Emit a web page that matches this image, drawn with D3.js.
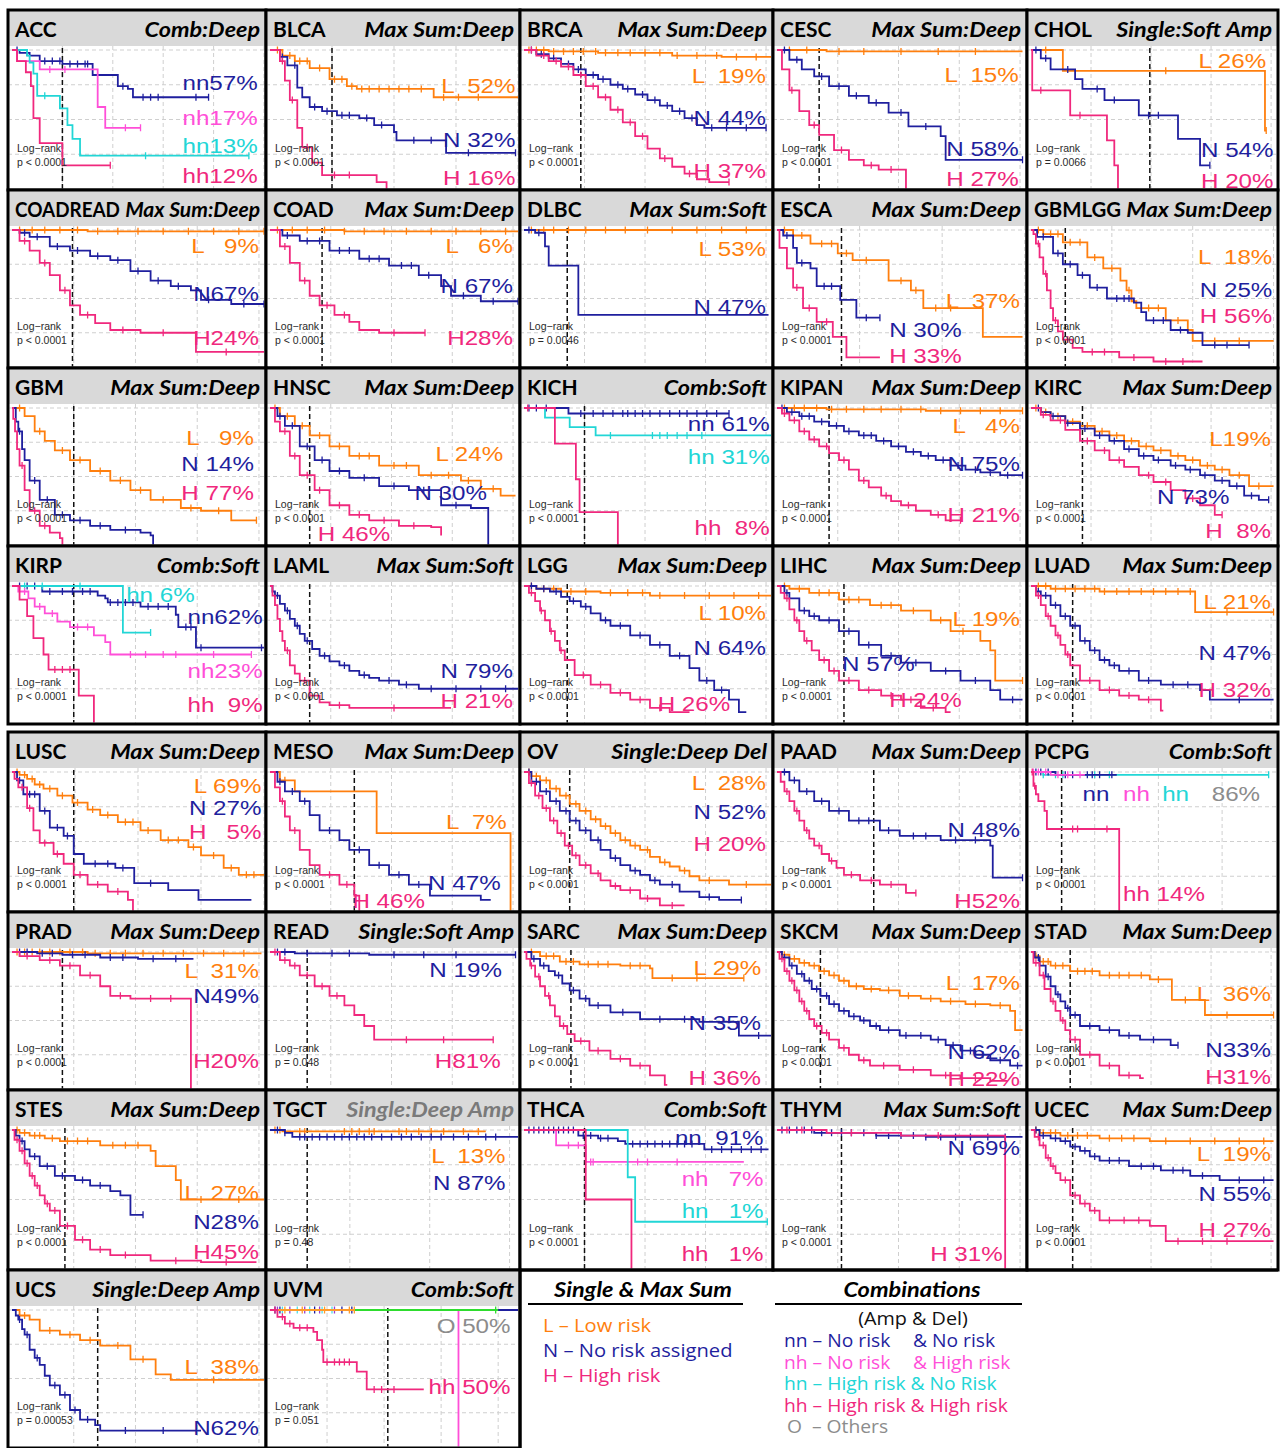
<!DOCTYPE html>
<html><head><meta charset="utf-8">
<script src="https://cdn.jsdelivr.net/npm/d3@7"></script>
<style>body{margin:0;background:#fff;} text{white-space:pre;}</style>
</head><body><svg id="c" width="1282" height="1448"></svg>
<script>
// ---------- colours per group key ----------
const groupColors = {L:"#ff7f0e", N:"#1f1f9e", H:"#f0287d", nn:"#1f1f9e", nh:"#ff4fd8", hn:"#22d6d6", hh:"#f0287d", O:"#8c8c8c", g:"#2edc2e", p:"#9a3ccf", o:"#ff9a2a", c:"#4fe0e0"};

// ---------- panel meta ----------
const panelNames = ["ACC","BLCA","BRCA","CESC","CHOL","COADREAD","COAD","DLBC","ESCA","GBMLGG","GBM","HNSC","KICH","KIPAN","KIRC","KIRP","LAML","LGG","LIHC","LUAD","LUSC","MESO","OV","PAAD","PCPG","PRAD","READ","SARC","SKCM","STAD","STES","TGCT","THCA","THYM","UCEC","UCS","UVM"];
const panelMethods = ["Comb:Deep","Max Sum:Deep","Max Sum:Deep","Max Sum:Deep","Single:Soft Amp","Max Sum:Deep","Max Sum:Deep","Max Sum:Soft","Max Sum:Deep","Max Sum:Deep","Max Sum:Deep","Max Sum:Deep","Comb:Soft","Max Sum:Deep","Max Sum:Deep","Comb:Soft","Max Sum:Soft","Max Sum:Deep","Max Sum:Deep","Max Sum:Deep","Max Sum:Deep","Max Sum:Deep","Single:Deep Del","Max Sum:Deep","Comb:Soft","Max Sum:Deep","Single:Soft Amp","Max Sum:Deep","Max Sum:Deep","Max Sum:Deep","Max Sum:Deep","Single:Deep Amp","Comb:Soft","Max Sum:Soft","Max Sum:Deep","Single:Deep Amp","Comb:Soft"];
const grayMethods = ["TGCT"];
const dashTimes = [2.0,2.5,2.3,1.7,4.85,2.4,2.1,1.75,2.6,1.4,2.45,1.6,2.45,2.1,2.1,2.45,1.6,1.75,2.7,1.7,2.45,3.4,1.85,3.9,1.25,2.0,1.5,1.9,1.75,1.6,2.1,1.5,2.45,2.6,1.7,3.4,4.75];
const gridSteps = [2.0,2.5,2.45,2.45,2.45,2.45,2.45,2.45,3.33,3.3,2.45,2.45,2.45,2.45,2.45,2.45,2.45,2.45,2.45,2.45,2.5,2.45,2.45,2.45,2.6,2.45,2.45,2.45,2.45,2.45,2.45,3.22,2.45,2.45,2.45,2.45,2.3];
const pValues = ["p < 0.0001","p < 0.0001","p < 0.0001","p < 0.0001","p = 0.0066","p < 0.0001","p < 0.0001","p = 0.0046","p < 0.0001","p < 0.0001","p < 0.0001","p < 0.0001","p < 0.0001","p < 0.0001","p < 0.0001","p < 0.0001","p < 0.0001","p < 0.0001","p < 0.0001","p < 0.0001","p < 0.0001","p < 0.0001","p < 0.0001","p < 0.0001","p < 0.0001","p < 0.0001","p = 0.048","p < 0.0001","p < 0.0001","p < 0.0001","p < 0.0001","p = 0.48","p < 0.0001","p < 0.0001","p < 0.0001","p = 0.00053","p = 0.051"];

// ---------- curves: [group, [[time, survival],...], end time, [censor times]] ----------
const curvesACC = [
 ["nn",[[0,1],[0.3,0.98],[0.7,0.96],[1.1,0.92],[2.0,0.9],[3.2,0.82],[4.2,0.74],[4.6,0.72],[4.8,0.66]],7.8,[0.2,0.6,1.3,1.6,1.9,2.3,2.6,2.9,3.0,4.4,5.2,5.5,5.8,7.3,7.8]],
 ["nh",[[0,1],[0.2,0.92],[1.1,0.86],[3.4,0.59],[3.7,0.44]],5.1,[1.5,2.1,4.5,5.1]],
 ["hn",[[0,1],[0.6,0.96],[0.7,0.91],[0.85,0.83],[1.0,0.67],[1.9,0.58],[2.2,0.46],[2.4,0.36],[2.7,0.24]],9.4,[1.3,5.3,9.4]],
 ["hh",[[0,1],[0.2,0.92],[0.55,0.84],[0.75,0.74],[0.85,0.51],[1.1,0.33],[2.0,0.17]],3.9,[3.9]]];
const curvesBLCA = [
 ["L",[[0,1],[0.5,0.96],[1,0.92],[1.6,0.87],[2.4,0.79],[3.1,0.74],[3.5,0.72],[6.6,0.66]],10,[0.3,0.8,1.2,1.5,2.0,2.6,2.9,3.3,3.7,4.0,4.4,4.8,5.2,5.6,6.1,7.0,7.6,8.4]],
 ["N",[[0,1],[0.4,0.95],[0.7,0.89],[1.1,0.73],[1.3,0.66],[1.6,0.59],[2.1,0.56],[2.7,0.53],[3.6,0.51],[4.2,0.46],[5.0,0.41],[5.1,0.35],[7.1,0.26]],9.9,[0.5,1.0,1.8,2.3,2.9,3.2,3.9,4.5,5.8,6.5,8.0,9.9]],
 ["H",[[0,1],[0.4,0.92],[0.6,0.78],[0.8,0.64],[1.1,0.44],[1.3,0.3],[1.7,0.19],[2.1,0.1],[4.3,0.05],[4.7,0]],4.7,[0.5,0.9,1.5,2.6,3.2]]];
const curvesBRCA = [
 ["L",[[0,1],[1,0.99],[3,0.98],[6,0.96],[8,0.95]],10,[0.2,0.5,0.8,1.2,1.6,2.0,2.4,2.9,3.3,3.8,4.3,4.9,5.5,6.2,7.0,7.8,8.6,9.4]],
 ["N",[[0,1],[0.5,0.97],[1,0.94],[1.5,0.9],[2,0.86],[2.5,0.82],[3,0.79],[3.5,0.75],[4,0.72],[4.5,0.68],[5,0.64],[5.5,0.6],[6,0.56],[6.5,0.51],[7,0.46],[7.3,0.44]],9.8,[0.3,0.7,1.2,1.8,2.2,2.8,3.2,3.8,4.2,4.8,5.3,5.8,6.3,6.8,7.6,8.2,9.0,9.8]],
 ["H",[[0,1],[0.5,0.96],[1,0.92],[1.5,0.88],[2,0.82],[2.5,0.74],[3,0.66],[3.5,0.57],[4,0.48],[4.5,0.38],[5,0.29],[5.5,0.22],[6,0.16],[6.5,0.11],[7,0.07],[7.5,0.05]],8.3,[0.3,0.8,1.3,1.8,2.3,2.8,3.3,3.8,4.3,4.8,5.7,6.7,8.3]]];
const curvesCESC = [
 ["L",[[0,1],[2,0.99]],9.9,[0.5,1.2,2.5,3.5,5,6.5,8]],
 ["N",[[0,1],[0.5,0.93],[1,0.86],[1.5,0.81],[2.1,0.74],[2.9,0.67],[3.7,0.62],[4.5,0.55],[5.3,0.45],[6.6,0.38],[6.8,0.21]],9.9,[0.3,0.8,1.8,2.5,3.2,4.0,5.0,6.0,9.9]],
 ["H",[[0,1],[0.2,0.86],[0.5,0.71],[0.9,0.56],[1.3,0.46],[1.7,0.39],[2.3,0.28],[2.9,0.21],[3.5,0.17],[4.1,0.14],[5.2,0]],5.2,[0.6,1.5,2.6,3.8,4.6]]];
const curvesCHOL = [
 ["L",[[0,1],[1.3,0.85],[9.55,0.42]],9.6,[0.6,5.5,9.6]],
 ["N",[[0,1],[0.4,0.94],[0.8,0.86],[1.8,0.79],[2.1,0.72],[3.0,0.64],[4.4,0.53],[6.0,0.36],[6.9,0.17]],7.3,[0.2,0.6,1.5,2.7,3.4,4.8,5.2,7.3]],
 ["H",[[0,1],[0.05,0.71],[1.6,0.53],[3.1,0.35],[3.4,0.17],[3.55,0]],3.55,[0.4,2.0]]];
const curvesCOADREAD = [
 ["L",[[0,1],[3,0.99]],10,[0.3,0.8,1.3,1.9,2.6,3.4,4.2,5,6,7,8,9,10]],
 ["N",[[0,1],[0.3,0.98],[0.7,0.95],[1.5,0.88],[2.3,0.85],[3.1,0.81],[3.9,0.78],[4.7,0.7],[5.5,0.63],[6.3,0.59],[7.1,0.56],[7.5,0.49],[8.7,0.46]],10,[0.5,1.0,1.8,2.6,3.4,4.2,5.0,5.8,6.6,7.8,9.2,10]],
 ["H",[[0,1],[0.3,0.92],[0.7,0.85],[1.1,0.76],[1.5,0.67],[1.9,0.56],[2.3,0.45],[2.7,0.38],[3.3,0.32],[3.9,0.27],[5.1,0.25],[7.3,0.11]],10,[0.5,1.3,2.1,3.0,4.4,6.0,8.5]]];
const curvesCOAD = [
 ["L",[[0,1],[3,0.99]],10,[0.3,0.9,1.5,2.2,3.0,3.8,4.6,5.5,6.5,7.5,8.5,9.5]],
 ["N",[[0,1],[0.5,0.96],[1.2,0.92],[2.4,0.85],[3.6,0.79],[4.8,0.74],[6.0,0.67],[6.9,0.59],[7.3,0.52],[8.5,0.48]],10,[0.7,1.5,2.0,2.8,3.2,4.0,4.4,5.3,5.7,6.4,7.0,7.8,9.0,10]],
 ["H",[[0,1],[0.4,0.88],[0.8,0.76],[1.2,0.63],[1.6,0.52],[2.0,0.45],[2.6,0.38],[3.2,0.33],[3.6,0.27],[4.4,0.25]],6.25,[0.6,1.4,2.3,3.0,5.0,6.25]]];
const curvesDLBC = [
 ["L",[[0,1]],10,[0.3,0.8,1.2,1.8,2.5,3.3,4.1,5,6,7,8,9]],
 ["N",[[0,1],[0.45,0.98],[0.85,0.88],[1.0,0.74],[2.2,0.38]],9.9,[0.2,0.6]]];
const curvesESCA = [
 ["L",[[0,1],[0.65,0.96],[1.35,0.9],[2.45,0.83],[3.05,0.78],[4.5,0.63],[5.4,0.56],[5.9,0.43],[8.3,0.22]],9.9,[0.3,1.0,1.8,2.2,2.8,3.6,5.0,5.6,6.4,7.0]],
 ["N",[[0,1],[0.25,0.96],[0.65,0.87],[0.8,0.76],[1.35,0.72],[1.6,0.59],[2.55,0.49],[3.2,0.36]],4.15,[0.4,1.0,1.9,2.2,3.6,4.15]],
 ["H",[[0,1],[0.1,0.87],[0.4,0.72],[0.65,0.58],[1.05,0.43],[1.6,0.33],[2.25,0.22],[2.8,0.07]],4.15,[0.8,1.3,2.0]]];
const curvesGBMLGG = [
 ["L",[[0,1],[0.5,0.97],[1.3,0.91],[2.3,0.8],[2.95,0.72],[3.65,0.63],[3.9,0.56],[4.1,0.48],[4.3,0.43],[5.5,0.34],[6.4,0.27],[6.6,0.19]],9.9,[0.3,0.8,1.1,1.6,2.0,2.6,3.3,4.0,4.8,5.2,6.0,7.5,8.5]],
 ["N",[[0,1],[0.25,0.95],[0.9,0.83],[1.3,0.75],[1.9,0.67],[2.4,0.58],[3.1,0.5],[4.2,0.47],[4.5,0.4],[4.7,0.34],[5.7,0.27],[6.4,0.25],[7.0,0.16]],8.9,[0.5,1.1,1.6,2.1,2.7,3.5,3.8,4.0,5.0,5.4,6.1,7.5,8.0,8.9]],
 ["H",[[0,1],[0.1,0.97],[0.2,0.9],[0.35,0.8],[0.5,0.68],[0.65,0.56],[0.8,0.43],[0.9,0.34],[1.1,0.26],[1.3,0.2],[1.7,0.14],[2.1,0.11],[3.6,0.07],[5.0,0.04]],7.0,[0.3,0.6,1.0,1.5,2.5,3.0,4.2,5.5,6.2]]];
const curvesGBM = [
 ["L",[[0,1],[0.5,0.94],[0.9,0.83],[1.3,0.76],[1.7,0.69],[2.3,0.62],[3.1,0.54],[3.9,0.47],[4.7,0.4],[5.5,0.33],[6.7,0.27],[7.5,0.25],[8.7,0.18]],9.7,[0.3,1.1,2.0,2.7,3.5,4.3,5.1,6.0,7.1,8.2,9.7]],
 ["N",[[0,1],[0.15,0.9],[0.25,0.83],[0.4,0.7],[0.5,0.62],[0.7,0.47],[1.1,0.33],[1.7,0.22],[2.3,0.18],[3.1,0.14],[3.9,0.11],[5.1,0.09],[5.5,0.07],[5.6,0]],5.6,[0.3,0.9,1.4,2.0,2.7,3.5,4.5]],
 ["H",[[0,1],[0.05,0.92],[0.12,0.83],[0.2,0.7],[0.3,0.58],[0.5,0.4],[0.7,0.25],[1.1,0.14],[1.5,0.09],[1.9,0.05],[2.0,0]],2.0,[0.4,0.9,1.3]]];
const curvesHNSC = [
 ["L",[[0,1],[0.4,0.94],[1.0,0.87],[1.6,0.8],[2.4,0.72],[3.2,0.65],[4.4,0.58],[6.0,0.51],[7.7,0.47],[8.5,0.41],[9.3,0.36]],9.9,[0.2,0.7,1.3,2.0,2.8,3.6,4.0,5.0,5.5,6.5,7.2,8.0,9.0]],
 ["N",[[0,1],[0.3,0.94],[0.6,0.87],[1.2,0.72],[1.8,0.62],[2.4,0.54],[3.2,0.49],[4.4,0.43],[5.6,0.4],[6.9,0.29],[8.1,0.27],[8.8,0]],8.8,[0.4,0.9,1.5,2.1,2.8,3.8,5.0,6.2,7.5]],
 ["H",[[0,1],[0.2,0.9],[0.4,0.83],[0.8,0.65],[1.2,0.51],[1.8,0.4],[2.4,0.29],[3.2,0.22],[4.0,0.18],[5.2,0.14],[6.5,0.13],[6.9,0.07]],6.9,[0.6,1.0,1.5,2.0,2.8,3.6,4.6,5.8]]];
const curvesKICH = [
 ["nn",[[0,1],[1.8,0.96]],8.3,[0.2,0.5,0.9,2.3,2.8,3.2,3.6,4.0,4.2,4.5,4.8,5.1,5.5,5.9,6.3,6.6,7.0,7.4,7.8,8.3]],
 ["hn",[[0,1],[0.85,0.93],[1.85,0.86],[2.9,0.8]],10,[3.5,5.2,5.5,5.8,6.2,6.6,7.2]],
 ["hh",[[0,1],[1.25,0.74],[2.1,0.48],[2.25,0.24],[3.8,0]],3.8,[0.15]]];
const curvesKIPAN = [
 ["L",[[0,1],[2,0.99],[6,0.98]],9.9,[0.3,0.7,1.1,1.6,2.2,2.8,3.5,4.2,5.0,5.8,6.6,7.4,8.2,9.0,9.9]],
 ["N",[[0,1],[0.4,0.97],[0.9,0.94],[1.5,0.9],[2.1,0.87],[2.7,0.83],[3.3,0.8],[4.0,0.76],[4.6,0.72],[5.2,0.68],[5.8,0.65],[6.4,0.62],[7.0,0.58],[7.6,0.55],[8.2,0.53],[9.0,0.51]],9.9,[0.2,0.6,1.0,1.3,1.8,2.4,2.9,3.5,3.8,4.3,4.9,5.5,6.1,6.7,7.3,8.0,8.6,9.3,9.9]],
 ["H",[[0,1],[0.2,0.96],[0.5,0.91],[0.9,0.83],[1.3,0.77],[1.7,0.72],[2.1,0.67],[2.5,0.62],[2.9,0.55],[3.3,0.47],[3.7,0.42],[4.2,0.36],[4.6,0.32],[5.0,0.29],[5.6,0.25],[6.2,0.22],[6.8,0.18]],7.4,[0.3,0.7,1.1,1.5,2.0,2.7,3.5,4.4,5.3,6.5,7.4]]];
const curvesKIRC = [
 ["L",[[0,1],[0.4,0.97],[0.8,0.94],[1.4,0.9],[2.0,0.87],[2.6,0.83],[3.2,0.8],[3.8,0.76],[4.4,0.72],[5.0,0.69],[5.7,0.65],[6.3,0.62],[6.9,0.58],[7.5,0.55],[8.1,0.51],[8.9,0.43]],9.9,[0.2,0.6,1.1,1.7,2.3,2.9,3.5,4.1,4.7,5.3,6.0,6.6,7.2,7.8,8.5,9.3]],
 ["N",[[0,1],[0.4,0.97],[0.8,0.94],[1.4,0.89],[2.0,0.85],[2.6,0.8],[3.2,0.76],[3.8,0.7],[4.4,0.65],[5.0,0.62],[5.7,0.58],[6.3,0.55],[6.9,0.51],[7.5,0.47],[8.1,0.43],[8.7,0.36],[9.3,0.33]],9.7,[0.3,0.9,1.5,2.2,2.8,3.4,4.0,4.6,5.2,5.9,6.5,7.1,7.8,8.4,9.0,9.7]],
 ["H",[[0,1],[0.4,0.95],[0.8,0.91],[1.4,0.84],[2.0,0.76],[2.6,0.69],[3.2,0.62],[3.8,0.57],[4.4,0.51],[5.0,0.46],[5.7,0.4],[6.3,0.34],[6.9,0.29],[7.5,0.22]],7.8,[0.5,1.2,2.3,3.0,3.6,4.8,5.5,6.6,7.8]]];
const curvesKIRP = [
 ["nn",[[0,1],[1.2,0.96],[3.4,0.93],[3.7,0.91],[3.8,0.88],[5.1,0.85],[6.5,0.79],[6.6,0.7],[7.3,0.55]],10,[0.3,0.6,0.9,1.5,2.0,2.4,2.8,3.1,3.9,4.2,4.5,4.8,5.4,5.8,6.2,6.9,7.1,7.5,9.9]],
 ["hn",[[0,1],[4.4,0.66]],5.5,[0.5,1.2,2.7,5.5]],
 ["nh",[[0,1],[0.25,0.96],[0.65,0.91],[0.9,0.85],[1.3,0.8],[1.8,0.74],[2.3,0.7],[3.25,0.64],[3.7,0.59],[3.9,0.5]],9.5,[0.5,1.1,1.6,2.6,3.0,4.7,5.3,6.0,6.5,8.0,9.5]],
 ["hh",[[0,1],[0.3,0.9],[0.6,0.78],[0.85,0.62],[1.25,0.5],[1.45,0.39],[2.65,0.2],[3.25,0]],3.25,[1.7,2.0,2.3]]];
const curvesLAML = [
 ["N",[[0,1],[0.1,0.96],[0.2,0.93],[0.4,0.87],[0.6,0.82],[0.8,0.76],[1.0,0.71],[1.2,0.65],[1.4,0.6],[1.7,0.54],[2.0,0.49],[2.4,0.45],[2.8,0.42],[3.2,0.38],[3.6,0.35],[4.0,0.33],[4.4,0.31],[5.2,0.28],[6.0,0.25]],10,[0.3,0.7,1.1,1.5,2.2,3.0,3.8,4.8,5.5,6.5,7.5,8.5,9.5]],
 ["H",[[0,1],[0.1,0.93],[0.2,0.86],[0.3,0.76],[0.4,0.67],[0.5,0.6],[0.6,0.53],[0.8,0.42],[1.0,0.36],[1.2,0.31],[1.6,0.2],[2.0,0.15],[2.4,0.13],[3.2,0.11]],7.3,[0.7,1.4,2.8,5.0]]];
const curvesLGG = [
 ["L",[[0,1],[0.5,0.98],[1.5,0.96],[3.1,0.95],[5.1,0.93]],10,[0.3,0.8,1.2,1.9,2.5,3.5,4.2,4.8,5.5,6.5,7.5,8.5,9.5]],
 ["N",[[0,1],[0.5,0.98],[1.05,0.96],[1.5,0.92],[1.85,0.89],[2.3,0.85],[2.7,0.8],[3.1,0.75],[3.5,0.71],[4.3,0.64],[5.1,0.57],[5.9,0.49],[6.7,0.4],[7.1,0.31],[7.7,0.24],[8.3,0.17],[8.7,0.08]],9.0,[0.3,0.8,1.3,2.0,2.5,3.3,3.9,4.7,5.5,6.3,7.4,8.0]],
 ["H",[[0,1],[0.2,0.95],[0.45,0.89],[0.65,0.82],[0.85,0.75],[1.05,0.67],[1.25,0.6],[1.45,0.53],[1.65,0.46],[2.05,0.35],[2.7,0.28],[3.5,0.22],[4.3,0.17],[5.1,0.11],[5.9,0.08]],6.7,[0.3,0.7,1.1,1.5,2.4,3.1,3.9,4.7,5.5]]];
const curvesLIHC = [
 ["L",[[0,1],[0.5,0.98],[1.3,0.95],[2.5,0.9],[3.75,0.86],[5.0,0.82],[6.2,0.75],[7.0,0.67],[8.2,0.6],[8.6,0.53],[8.8,0.31]],9.9,[0.3,0.9,1.7,2.1,2.9,3.3,4.2,4.6,5.5,6.6,7.5,9.9]],
 ["N",[[0,1],[0.3,0.95],[0.5,0.91],[0.9,0.82],[1.3,0.78],[1.7,0.75],[2.5,0.67],[3.3,0.57],[4.2,0.49],[5.0,0.44],[6.2,0.38],[7.4,0.31],[8.6,0.24],[9.0,0.17]],9.9,[0.4,1.1,1.5,2.1,2.9,3.7,4.6,5.6,6.8,8.0,9.5]],
 ["H",[[0,1],[0.15,0.95],[0.3,0.91],[0.5,0.83],[0.7,0.75],[0.9,0.67],[1.1,0.6],[1.4,0.53],[1.7,0.46],[2.1,0.38],[2.5,0.31],[3.3,0.24],[4.2,0.2],[5.0,0.17],[5.8,0.11],[6.8,0.08]],7.0,[0.4,0.8,1.2,1.9,2.3,2.9,3.7,4.6,5.4,6.3]]];
const curvesLUAD = [
 ["L",[[0,1],[0.8,0.98],[2.8,0.96],[6.7,0.81]],9.9,[0.3,0.6,1.0,1.4,1.8,2.2,2.6,3.0,3.5,4.0,4.5,5.0,5.5,6.0,6.5,8.0,9.9]],
 ["N",[[0,1],[0.2,0.96],[0.4,0.93],[0.8,0.86],[1.2,0.78],[1.6,0.71],[2.0,0.6],[2.4,0.53],[2.8,0.46],[3.2,0.42],[3.6,0.38],[4.4,0.31],[5.3,0.28],[6.9,0.24],[7.3,0.17]],9.9,[0.3,0.6,1.0,1.4,1.8,2.2,2.6,3.0,3.4,4.0,4.8,5.8,6.4,8.5]],
 ["H",[[0,1],[0.2,0.93],[0.4,0.86],[0.6,0.78],[0.8,0.71],[1.0,0.64],[1.2,0.57],[1.4,0.5],[1.6,0.42],[2.0,0.31],[2.8,0.24],[3.6,0.2],[4.4,0.17],[5.3,0.09]],5.4,[0.3,0.7,1.1,1.5,2.4,3.2,4.0,4.8]]];
const curvesLUSC = [
 ["L",[[0,1],[0.3,0.98],[0.6,0.95],[0.9,0.91],[1.25,0.88],[1.8,0.83],[2.4,0.78],[3.0,0.73],[3.5,0.69],[4.2,0.64],[5.1,0.58],[5.9,0.51],[7.0,0.46],[7.5,0.4],[8.4,0.31],[9.0,0.26]],10,[0.2,0.5,0.8,1.1,1.5,2.0,2.6,3.2,3.8,4.5,4.8,5.4,6.2,6.6,7.2,8.0,8.7,9.3,9.6]],
 ["N",[[0,1],[0.2,0.94],[0.45,0.84],[1.1,0.72],[1.5,0.6],[2.05,0.54],[2.45,0.41],[2.85,0.34],[4.1,0.31],[4.85,0.2],[6.2,0.15],[7.4,0.08]],9.5,[0.3,0.7,0.9,1.3,1.8,2.2,3.3,3.8,4.4,5.5]],
 ["H",[[0,1],[0.1,0.95],[0.25,0.89],[0.6,0.74],[0.85,0.58],[1.1,0.49],[1.65,0.41],[2.05,0.34],[2.45,0.26],[3.0,0.19],[3.8,0.14],[4.6,0.08],[4.8,0]],4.8,[0.4,0.7,1.3,1.8,2.7,3.4,4.2]]];
const curvesMESO = [
 ["L",[[0,1],[0.4,0.94],[1.0,0.86],[4.3,0.56],[9.7,0]],9.7,[0.6]],
 ["N",[[0,1],[0.3,0.93],[0.6,0.86],[1.2,0.79],[1.6,0.69],[2.0,0.58],[2.8,0.51],[3.2,0.44],[4.0,0.33],[4.8,0.26],[5.6,0.19],[6.45,0.11],[8.5,0.08]],8.9,[0.4,0.9,1.4,2.4,3.6,4.4,5.2,6.0]],
 ["H",[[0,1],[0.2,0.89],[0.4,0.79],[0.6,0.68],[0.8,0.58],[1.2,0.44],[1.6,0.33],[2.0,0.26],[2.8,0.19],[3.4,0.11],[3.6,0]],3.6,[0.5,1.0,2.4,3.1]]];
const curvesOV = [
 ["L",[[0,1],[0.3,0.97],[0.65,0.94],[1.05,0.88],[1.45,0.83],[1.85,0.77],[2.25,0.72],[2.7,0.66],[3.1,0.61],[3.5,0.56],[3.9,0.51],[4.3,0.47],[4.7,0.44],[5.1,0.39],[5.5,0.35],[5.9,0.32],[6.3,0.29],[6.7,0.25],[7.1,0.22],[8.3,0.19]],10,[0.2,0.5,0.9,1.3,1.7,2.1,2.5,2.9,3.3,3.7,4.1,4.5,5.0,5.7,6.5,7.5,9.0]],
 ["N",[[0,1],[0.3,0.93],[0.65,0.86],[1.05,0.79],[1.45,0.72],[1.85,0.65],[2.25,0.58],[2.7,0.51],[3.1,0.44],[3.5,0.38],[3.9,0.33],[4.3,0.29],[4.7,0.26],[5.1,0.22],[5.5,0.19],[6.3,0.14],[7.1,0.1],[7.9,0.08]],8.8,[0.2,0.5,0.9,1.3,1.7,2.1,2.5,3.0,3.7,4.5,5.3,6.0,7.5,8.8]],
 ["H",[[0,1],[0.2,0.92],[0.45,0.83],[0.75,0.74],[1.05,0.65],[1.35,0.56],[1.65,0.47],[1.95,0.4],[2.25,0.33],[2.7,0.27],[3.1,0.22],[3.5,0.18],[3.9,0.15],[4.7,0.09],[5.5,0.04]],6.5,[0.3,0.6,0.9,1.2,1.5,1.8,2.1,2.5,3.0,3.7,4.3,5.0,6.0]]];
const curvesPAAD = [
 ["N",[[0,1],[0.5,0.94],[0.9,0.86],[1.5,0.79],[2.1,0.72],[2.9,0.65],[4.15,0.58],[4.95,0.54],[6.6,0.51],[8.6,0.47],[8.7,0.24]],9.9,[0.3,0.7,1.2,1.8,2.5,3.3,3.7,4.5,5.5,6.0,7.2,8.0,9.9]],
 ["H",[[0,1],[0.15,0.93],[0.3,0.86],[0.5,0.79],[0.7,0.72],[0.9,0.65],[1.1,0.58],[1.3,0.52],[1.5,0.47],[1.8,0.41],[2.1,0.36],[2.4,0.31],[2.7,0.26],[3.35,0.22],[4.15,0.19],[5.2,0.13]],5.6,[0.4,0.8,1.2,1.7,2.2,3.0,3.8,4.6,5.6]]];
const curvesPCPG = [
 ["hn",[[0,1],[0.5,0.98]],9.7,[0.5,1.0,1.3,2.6,3.2,9.7]],
 ["nn",[[0,1],[1.0,0.98]],3.5,[0.2,0.4,0.7,1.4,1.7,2.3,2.5,2.8,3.3]],
 ["nh",[[0,1],[0.8,0.98]],2.2,[0.1,0.3,0.6,1.1,1.5,2.0]],
 ["hh",[[0,1],[0.1,0.9],[0.2,0.84],[0.3,0.79],[0.55,0.72],[0.65,0.59],[3.6,0]],3.6,[0.05,0.15,1.7,1.9,3.1]]];
const curvesPRAD = [
 ["L",[[0,1],[3,0.99]],9.9,[0.2,0.5,0.8,1.1,1.5,1.9,2.3,2.8,3.3,3.9,4.5,5.2,6.0,6.8,7.6,8.4,9.2]],
 ["N",[[0,1],[1.0,0.99],[2.0,0.98],[3.5,0.96],[5.0,0.95]],7.2,[0.3,0.6,1.2,1.6,2.4,2.9,3.9,4.4,5.6,6.5]],
 ["H",[[0,1],[0.3,0.97],[1.1,0.94],[1.9,0.9],[2.7,0.83],[3.5,0.75],[3.9,0.68],[4.7,0.66],[7.1,0]],7.1,[0.6,1.5,2.3,3.1,4.3,5.5,6.3]]];
const curvesREAD = [
 ["N",[[0,1],[1,0.99],[4,0.98]],9.9,[0.3,0.6,1.5,2.5,3.2,5.0,6.2,7.5,9.9]],
 ["H",[[0,1],[0.4,0.94],[0.8,0.9],[1.2,0.83],[1.8,0.75],[2.4,0.68],[3.0,0.61],[3.4,0.54],[3.8,0.46],[4.2,0.36]],9.0,[0.2,0.6,1.0,1.5,2.1,2.7,5.5,7.0,9.0]]];
const curvesSARC = [
 ["L",[[0,1],[0.65,0.97],[1.45,0.93],[2.25,0.91],[3.9,0.9],[5.1,0.88],[5.2,0.81]],8.9,[0.3,0.9,1.2,1.7,2.0,2.6,3.0,3.4,4.3,4.7,6.0,7.0,8.9]],
 ["N",[[0,1],[0.3,0.95],[0.65,0.9],[1.0,0.86],[1.25,0.83],[1.55,0.77],[1.85,0.72],[2.25,0.66],[2.65,0.61],[3.5,0.56],[4.7,0.51],[7.1,0.49],[8.7,0.39]],10,[0.4,0.8,1.4,2.0,2.5,3.0,4.0,5.5,6.5,9.5]],
 ["H",[[0,1],[0.1,0.95],[0.25,0.9],[0.45,0.82],[0.65,0.75],[0.85,0.68],[1.05,0.61],[1.25,0.53],[1.45,0.46],[1.75,0.4],[2.05,0.35],[2.65,0.28],[3.5,0.22],[4.3,0.17],[5.1,0.1],[5.7,0.03]],5.8,[0.3,0.6,1.0,1.6,2.3,3.0,3.9,4.7]]];
const curvesSKCM = [
 ["L",[[0,1],[0.2,0.98],[0.5,0.95],[0.9,0.92],[1.3,0.9],[1.7,0.86],[2.1,0.83],[2.5,0.79],[2.9,0.75],[3.5,0.73],[4.15,0.72],[4.95,0.68],[5.8,0.66],[6.6,0.64],[7.6,0.62],[8.6,0.61],[9.4,0.57],[9.6,0.43]],9.9,[0.3,0.7,1.1,1.5,1.9,2.3,2.7,3.2,3.8,4.5,5.3,6.2,7.0,8.0,9.0]],
 ["N",[[0,1],[0.2,0.96],[0.5,0.9],[0.8,0.84],[1.1,0.79],[1.4,0.73],[1.75,0.68],[2.1,0.62],[2.5,0.57],[2.9,0.53],[3.35,0.5],[3.75,0.46],[4.15,0.43],[4.95,0.39],[6.2,0.36],[6.8,0.32],[7.4,0.28],[8.0,0.25],[8.6,0.21],[9.4,0.17]],9.9,[0.3,0.6,1.0,1.3,1.6,2.0,2.3,2.7,3.1,3.5,4.0,4.5,5.2,5.8,6.5,7.1,7.8,8.3,9.0,9.7]],
 ["H",[[0,1],[0.1,0.95],[0.3,0.86],[0.5,0.79],[0.7,0.72],[0.9,0.64],[1.1,0.57],[1.3,0.51],[1.5,0.46],[1.8,0.41],[2.1,0.36],[2.5,0.3],[2.9,0.25],[3.3,0.21],[3.75,0.17],[4.95,0.14],[6.2,0.1],[7.4,0.08],[8.6,0.06]],9.3,[0.2,0.4,0.6,0.8,1.0,1.2,1.6,2.0,2.7,3.5,4.3,5.5,6.8,8.0]]];
const curvesSTAD = [
 ["L",[[0,1],[0.15,0.97],[0.35,0.93],[0.8,0.9],[1.6,0.86],[2.8,0.83],[4.85,0.8],[5.75,0.65],[7.1,0.54]],9.9,[0.2,0.5,0.7,1.0,1.3,1.9,2.2,2.5,3.2,3.6,4.0,4.5,5.2,6.3,8.0,9.9]],
 ["N",[[0,1],[0.15,0.96],[0.35,0.9],[0.6,0.82],[0.8,0.75],[1.0,0.69],[1.2,0.64],[1.4,0.59],[1.6,0.54],[2.0,0.46],[2.8,0.43],[3.6,0.39],[4.45,0.36],[5.7,0.32]],6.0,[0.3,0.7,1.1,1.5,1.8,2.4,3.2,4.0,5.0,6.0]],
 ["H",[[0,1],[0.1,0.92],[0.35,0.83],[0.55,0.73],[0.8,0.64],[1.0,0.57],[1.2,0.5],[1.4,0.43],[1.6,0.36],[2.0,0.25],[2.8,0.17],[3.6,0.1],[4.45,0.08]],4.6,[0.2,0.5,0.9,1.3,1.8,2.4,3.2,4.0]]];
const curvesSTES = [
 ["L",[[0,1],[0.3,0.98],[0.7,0.96],[1.3,0.94],[1.9,0.92],[3.5,0.89],[5.5,0.85],[5.7,0.74],[6.5,0.64],[6.7,0.5]],10,[0.2,0.5,0.9,1.1,1.6,2.2,2.6,3.0,4.0,4.5,5.0,7.5,9.0]],
 ["N",[[0,1],[0.15,0.96],[0.3,0.92],[0.5,0.86],[0.7,0.81],[1.1,0.74],[1.7,0.67],[2.5,0.64],[3.1,0.6],[3.9,0.56],[4.3,0.53],[4.7,0.39]],5.2,[0.4,0.9,1.4,2.0,2.8,3.5,5.2]],
 ["H",[[0,1],[0.1,0.93],[0.3,0.85],[0.5,0.76],[0.7,0.67],[0.9,0.6],[1.1,0.53],[1.3,0.47],[1.5,0.42],[1.9,0.31],[2.5,0.21],[3.1,0.14],[3.9,0.1],[5.5,0.06],[7.5,0.05]],9.7,[0.2,0.4,0.6,0.8,1.0,1.4,1.7,2.2,2.8,3.5,4.5,6.5,8.5]]];
const curvesTGCT = [
 ["L",[[0,1],[0.5,0.99]],8.7,[0.2,0.4,1.2,1.4,3.0,3.3,3.6,4.0,4.2,5.2,5.5,6.0,6.5,7.0,7.8,8.4]],
 ["N",[[0,1],[0.6,0.98],[0.9,0.95]],10,[0.3,0.6,1.2,1.4,1.7,2.0,2.3,2.6,2.9,3.2,3.5,3.8,4.1,4.5,4.9,5.3,5.7,6.1,6.5,6.9,7.4,8.0,8.7,9.1]]];
const curvesTHCA = [
 ["nn",[[0,1],[2.2,0.96],[3.0,0.94],[3.8,0.92],[4.1,0.9],[7.3,0.86]],9.9,[0.2,0.4,0.6,0.8,1.0,1.2,1.4,1.6,1.8,2.0,2.4,2.7,3.1,3.4,4.4,4.7,5.0,5.3,5.6,5.9,6.2,6.5,6.8,7.6,8.0,8.4,8.8,9.2,9.6]],
 ["nh",[[0,1],[1.3,0.89],[2.5,0.77]],8.9,[1.8,2.2,2.7,2.8,4.6,5.0,6.2]],
 ["hn",[[0,1],[4.2,0.66],[4.5,0.34]],9.85,[9.85]],
 ["hh",[[0,1],[2.5,0.5],[4.35,0]],4.35,[]]];
const curvesTHYM = [
 ["N",[[0,1],[1.5,0.98],[4,0.96],[6,0.95]],9.9,[0.2,0.5,0.8,1.1,1.4,1.8,2.2,2.6,3.0,3.5,4.0,4.5,5.0,5.5,6.0,6.6,7.2,7.8,8.5,9.2]],
 ["H",[[0,1],[2,0.98],[5,0.96],[9.2,0]],9.2,[0.4,1.0,3.0,6.5]]];
const curvesUCEC = [
 ["L",[[0,1],[0.35,0.98],[1.2,0.96],[2.8,0.94],[4.85,0.92]],9.9,[0.2,0.5,0.8,1.0,1.5,1.9,2.3,3.2,3.7,4.2,5.5,6.5,7.5,8.5,9.5]],
 ["N",[[0,1],[0.35,0.96],[0.8,0.94],[1.2,0.92],[1.6,0.88],[2.0,0.85],[2.4,0.81],[2.8,0.78],[4.0,0.74],[5.3,0.71],[6.5,0.67],[7.7,0.64]],9.9,[0.2,0.5,1.0,1.4,1.8,2.2,2.6,3.2,3.6,4.5,5.0,5.8,6.2,7.0,8.5,9.5]],
 ["H",[[0,1],[0.15,0.95],[0.35,0.89],[0.6,0.8],[0.8,0.74],[1.0,0.69],[1.2,0.64],[1.6,0.53],[2.0,0.47],[2.4,0.42],[2.8,0.35],[4.85,0.31],[5.5,0.2]],9.9,[0.3,0.5,0.7,0.9,1.4,1.8,2.2,2.6,3.2,3.8,4.4,6.0,7.0,8.0]]];
const curvesUCS = [
 ["L",[[0,1],[0.3,0.96],[0.7,0.93],[1.1,0.85],[1.9,0.82],[2.7,0.78],[3.5,0.74],[4.7,0.64],[5.7,0.53],[6.3,0.49]],10,[0.5,1.5,2.3,3.1,4.2,5.2,8.0]],
 ["N",[[0,1],[0.15,0.96],[0.25,0.93],[0.4,0.86],[0.5,0.82],[0.7,0.71],[0.9,0.65],[1.1,0.6],[1.3,0.52],[1.5,0.45],[1.9,0.38],[2.3,0.27],[2.7,0.2],[3.3,0.16],[3.5,0.12]],7.5,[0.3,0.6,1.0,1.7,2.1,2.5,3.0,4.5,6.0]]];
const curvesUVM = [
 ["nh",[[0,1],[7.6,0]],7.6,[]],
 ["N",[[0,1]],10,[0.2,0.4,1.8,2.9,3.3]],
 ["g",[[0,1]],9.2,[9.1]],
 ["p",[[0,1]],3.0,[0.3,0.8,1.4,2.0,2.6]],
 ["c",[[0,1]],2.5,[0.5,1.1,1.6,2.1,2.5]],
 ["o",[[0,1]],3.4,[0.6,1.3,2.2,3.2,3.4]],
 ["hh",[[0,1],[0.3,0.95],[0.6,0.9],[0.95,0.87],[1.75,0.84],[1.9,0.78],[2.1,0.71],[2.15,0.62],[3.5,0.55],[3.9,0.42]],6.2,[0.2,0.5,0.8,1.2,1.5,2.3,2.6,2.8,3.0,3.2,4.2,4.5,5.0]]];

// ---------- right-hand group labels: [text, group, survival level, right end time] ----------
const labelsACC = [["nn57%","nn",0.71,9.75],["nh17%","nh",0.46,9.75],["hn13%","hn",0.26,9.75],["hh12%","hh",0.04,9.75]];
const labelsBLCA = [["L  52%","L",0.69,9.9],["N 32%","N",0.3,9.9],["H 16%","H",0.03,9.9]];
const labelsBRCA = [["L  19%","L",0.76,9.8],["N 44%","N",0.46,9.8],["H 37%","H",0.08,9.8]];
const labelsCESC = [["L  15%","L",0.77,9.75],["N 58%","N",0.24,9.75],["H 27%","H",0.02,9.75]];
const labelsCHOL = [["L 26%","L",0.87,9.6],["N 54%","N",0.23,9.9],["H 20%","H",0.01,9.9]];
const labelsCOADREAD = [["L   9%","L",0.83,9.8],["N67%","N",0.48,9.8],["H24%","H",0.16,9.8]];
const labelsCOAD = [["L   6%","L",0.83,9.8],["N 67%","N",0.54,9.8],["H28%","H",0.16,9.8]];
const labelsDLBC = [["L 53%","L",0.81,9.8],["N 47%","N",0.39,9.8]];
const labelsESCA = [["L  37%","L",0.43,9.8],["N 30%","N",0.22,7.45],["H 33%","H",0.03,7.45]];
const labelsGBMLGG = [["L  18%","L",0.75,9.85],["N 25%","N",0.51,9.85],["H 56%","H",0.32,9.85]];
const labelsGBM = [["L   9%","L",0.73,9.6],["N 14%","N",0.54,9.6],["H 77%","H",0.33,9.6]];
const labelsHNSC = [["L 24%","L",0.61,9.4],["N 30%","N",0.33,8.75],["H 46%","H",0.03,4.85]];
const labelsKICH = [["nn 61%","nn",0.83,9.95],["hn 31%","hn",0.59,9.95],["hh  8%","hh",0.07,9.95]];
const labelsKIPAN = [["L   4%","L",0.82,9.8],["N 75%","N",0.54,9.8],["H 21%","H",0.17,9.8]];
const labelsKIRC = [["L19%","L",0.72,9.8],["N 73%","N",0.3,8.1],["H  8%","H",0.05,9.8]];
const labelsKIRP = [["hn 6%","hn",0.88,7.25],["nn62%","nn",0.72,9.95],["nh23%","nh",0.33,9.95],["hh  9%","hh",0.08,9.95]];
const labelsLAML = [["N 79%","N",0.33,9.8],["H 21%","H",0.11,9.8]];
const labelsLGG = [["L 10%","L",0.75,9.8],["N 64%","N",0.5,9.8],["H 26%","H",0.09,8.35]];
const labelsLIHC = [["L 19%","L",0.71,9.8],["N 57%","N",0.38,5.55],["H 24%","H",0.12,7.45]];
const labelsLUAD = [["L 21%","L",0.83,9.8],["N 47%","N",0.46,9.8],["H 32%","H",0.19,9.8]];
const labelsLUSC = [["L 69%","L",0.85,9.9],["N 27%","N",0.69,9.9],["H   5%","H",0.52,9.9]];
const labelsMESO = [["L  7%","L",0.59,9.55],["N 47%","N",0.15,9.3],["H 46%","H",0.02,6.25]];
const labelsOV = [["L  28%","L",0.87,9.8],["N 52%","N",0.66,9.8],["H 20%","H",0.43,9.8]];
const labelsPAAD = [["N 48%","N",0.53,9.8],["H52%","H",0.02,9.8]];
const labelsPCPG = [["nn","nn",0.79,3.2],["nh","nh",0.79,4.85],["hn","hn",0.79,6.45],["86%","O",0.79,9.35],["hh 14%","hh",0.07,7.1]];
const labelsPRAD = [["L  31%","L",0.81,9.8],["N49%","N",0.63,9.8],["H20%","H",0.15,9.8]];
const labelsREAD = [["N 19%","N",0.82,9.35],["H81%","H",0.15,9.3]];
const labelsSARC = [["L 29%","L",0.83,9.6],["N 35%","N",0.43,9.6],["H 36%","H",0.03,9.6]];
const labelsSKCM = [["L  17%","L",0.72,9.8],["N 62%","N",0.22,9.8],["H 22%","H",0.02,9.8]];
const labelsSTAD = [["L  36%","L",0.64,9.8],["N33%","N",0.23,9.8],["H31%","H",0.04,9.8]];
const labelsSTES = [["L  27%","L",0.5,9.8],["N28%","N",0.29,9.8],["H45%","H",0.07,9.8]];
const labelsTGCT = [["L  13%","L",0.76,9.5],["N 87%","N",0.57,9.5]];
const labelsTHCA = [["nn  91%","nn",0.89,9.7],["nh   7%","nh",0.6,9.7],["hn   1%","hn",0.37,9.7],["hh   1%","hh",0.06,9.7]];
const labelsTHYM = [["N 69%","N",0.82,9.8],["H 31%","H",0.06,9.1]];
const labelsUCEC = [["L  19%","L",0.78,9.8],["N 55%","N",0.49,9.8],["H 27%","H",0.23,9.8]];
const labelsUCS = [["L  38%","L",0.53,9.8],["N62%","N",0.09,9.8]];
const labelsUVM = [["O 50%","O",0.83,9.7],["hh 50%","hh",0.39,9.7]];

const panelCurves = [curvesACC,curvesBLCA,curvesBRCA,curvesCESC,curvesCHOL,curvesCOADREAD,curvesCOAD,curvesDLBC,curvesESCA,curvesGBMLGG,curvesGBM,curvesHNSC,curvesKICH,curvesKIPAN,curvesKIRC,curvesKIRP,curvesLAML,curvesLGG,curvesLIHC,curvesLUAD,curvesLUSC,curvesMESO,curvesOV,curvesPAAD,curvesPCPG,curvesPRAD,curvesREAD,curvesSARC,curvesSKCM,curvesSTAD,curvesSTES,curvesTGCT,curvesTHCA,curvesTHYM,curvesUCEC,curvesUCS,curvesUVM];
const panelLabels = [labelsACC,labelsBLCA,labelsBRCA,labelsCESC,labelsCHOL,labelsCOADREAD,labelsCOAD,labelsDLBC,labelsESCA,labelsGBMLGG,labelsGBM,labelsHNSC,labelsKICH,labelsKIPAN,labelsKIRC,labelsKIRP,labelsLAML,labelsLGG,labelsLIHC,labelsLUAD,labelsLUSC,labelsMESO,labelsOV,labelsPAAD,labelsPCPG,labelsPRAD,labelsREAD,labelsSARC,labelsSKCM,labelsSTAD,labelsSTES,labelsTGCT,labelsTHCA,labelsTHYM,labelsUCEC,labelsUCS,labelsUVM];

// ---------- legend text ----------
const legendSingle = [["L","– Low risk","L"],["N","– No risk assigned","N"],["H","– High risk","H"]];
const legendComb = [["nn","– No risk","& No risk","nn"],["nh","– No risk","& High risk","nh"],["hn","– High risk & No Risk","","hn"],["hh","– High risk & High risk","","hh"],["O ","– Others","","O"]];

// ---------- layout ----------
const svg = d3.select("#c");
const colX = [8,266,520,773,1027,1278];
const rowTop = [10,190,368,546,732,912,1090,1270];
const rowBot = [190,368,546,724,912,1090,1270,1448];
const defs = svg.append("defs");
const stepLine = d3.line().curve(d3.curveStepAfter);

function survAt(pts,t){let s=pts[0][1];for(const p of pts){if(p[0]<=t)s=p[1];else break;}return s;}

panelNames.forEach((name,i)=>{
  const r=Math.floor(i/5), c=i%5;
  const left=colX[c], right=colX[c+1], top=rowTop[r], bot=rowBot[r];
  const g=svg.append("g");
  const x=d3.scaleLinear().domain([0,10]).range([left+4,right-2]);
  const y=d3.scaleLinear().domain([0,1]).range([bot-1,top+40]);
  defs.append("clipPath").attr("id","cl"+i).append("rect")
    .attr("x",left+1.5).attr("y",top+36).attr("width",right-left-3).attr("height",bot-top-37.5);
  g.append("rect").attr("x",left).attr("y",top).attr("width",right-left).attr("height",bot-top).attr("fill","#fff");
  g.append("rect").attr("x",left).attr("y",top).attr("width",right-left).attr("height",36).attr("fill","#d9d9d9");
  const pg=g.append("g").attr("clip-path",`url(#cl${i})`);
  // grid
  const gx=d3.range(gridSteps[i],10.05,gridSteps[i]);
  pg.selectAll(".gx").data(gx).join("line").attr("x1",d=>x(d)).attr("x2",d=>x(d))
    .attr("y1",top+36).attr("y2",bot).attr("stroke","#cfcfcf").attr("stroke-dasharray","4,3").attr("stroke-width",1);
  pg.selectAll(".gy").data([0.25,0.5,0.75,1]).join("line").attr("y1",d=>y(d)).attr("y2",d=>y(d))
    .attr("x1",left).attr("x2",right).attr("stroke","#cfcfcf").attr("stroke-dasharray","4,3").attr("stroke-width",1);
  // dashed time marker
  pg.append("line").attr("x1",x(dashTimes[i])).attr("x2",x(dashTimes[i])).attr("y1",y(1)-2).attr("y2",bot)
    .attr("stroke","#111").attr("stroke-dasharray","5,3").attr("stroke-width",1.5);
  // log-rank text
  const lr=g.append("g").attr("fill","#2a2a2a").attr("font-family","Liberation Sans, Arial, sans-serif").attr("font-size",10.5);
  lr.append("text").attr("x",left+9).attr("y",bot-38).text("Log\u2212rank");
  lr.append("text").attr("x",left+9).attr("y",bot-24).text(pValues[i]);
  // curves
  panelCurves[i].forEach(([key,pts,end,cens])=>{
    const col=groupColors[key];
    const data=pts.concat([[end,pts[pts.length-1][1]]]).map(p=>[x(p[0]),y(p[1])]);
    pg.append("path").attr("d",stepLine(data)).attr("fill","none").attr("stroke",col).attr("stroke-width",1.8);
    pg.selectAll(null).data(cens).join("line")
      .attr("x1",d=>x(d)).attr("x2",d=>x(d))
      .attr("y1",d=>y(survAt(pts,d))-3.5).attr("y2",d=>y(survAt(pts,d))+3.5)
      .attr("stroke",col).attr("stroke-width",1.3);
  });
  // labels
  panelLabels[i].forEach(([txt,key,s,tR])=>{
    g.append("text").attr("transform",`translate(${x(tR)},${y(s)}) scale(1.24,1)`)
      .attr("text-anchor","end").attr("font-family","Liberation Sans, Arial, sans-serif").attr("font-size",19.5)
      .attr("fill",groupColors[key]).text(txt);
  });
  // header texts (squeezed together when they would collide)
  const nm=g.append("text").attr("font-family","Lato, sans-serif").attr("font-weight","bold").attr("font-size",20).attr("fill","#000").text(name);
  const mt=g.append("text").attr("text-anchor","end")
    .attr("font-family","Lato, sans-serif").attr("font-weight","bold").attr("font-style","italic").attr("font-size",20)
    .attr("fill",grayMethods.includes(name)?"#7a7a7a":"#000").text(panelMethods[i]);
  let sN=1.05, sM=1.17;
  const wN=nm.node().getComputedTextLength()*sN, wM=mt.node().getComputedTextLength()*sM;
  const avail=right-left-13-5;
  if(wN+wM>avail){const f=avail/(wN+wM); sN*=f; sM*=f;}
  nm.attr("transform",`translate(${left+7},${top+27}) scale(${sN},1)`);
  mt.attr("transform",`translate(${right-6},${top+27}) scale(${sM},1)`);
  // frame
  g.append("rect").attr("x",left).attr("y",top).attr("width",right-left).attr("height",bot-top)
    .attr("fill","none").attr("stroke","#000").attr("stroke-width",3);
});

// ---------- legend ----------
const lg=svg.append("g");
lg.append("line").attr("x1",520).attr("x2",520).attr("y1",1270).attr("y2",1448).attr("stroke","#000").attr("stroke-width",3);
lg.append("line").attr("x1",520).attr("x2",1278).attr("y1",1270).attr("y2",1270).attr("stroke","#000").attr("stroke-width",3);
function hdr(txt,cx,x1,x2){
  lg.append("text").attr("transform",`translate(${cx},1297) scale(1.12,1)`).attr("text-anchor","middle")
    .attr("font-family","Lato, sans-serif").attr("font-weight","bold").attr("font-style","italic").attr("font-size",21).text(txt);
  lg.append("line").attr("x1",x1).attr("x2",x2).attr("y1",1304).attr("y2",1304).attr("stroke","#000").attr("stroke-width",2.2);
}
hdr("Single & Max Sum",643,528,743);
hdr("Combinations",912,775,1022);
lg.append("text").attr("transform","translate(913,1325) scale(1.1,1)").attr("text-anchor","middle")
  .attr("font-family","Open Sans, sans-serif").attr("font-size",18).attr("fill","#111").text("(Amp & Del)");
const legFont="Open Sans, sans-serif";
legendSingle.forEach(([a,b,key],k)=>{
  lg.append("text").attr("transform",`translate(543,${1332+k*25}) scale(1.12,1)`).attr("font-family",legFont).attr("font-size",18)
    .attr("fill",groupColors[key]).text(a+" "+b);
});
legendComb.forEach(([a,b,c2,key],k)=>{
  const yy=1347+k*21.5;
  lg.append("text").attr("transform",`translate(${key==="O"?787:784},${yy}) scale(1.07,1)`).attr("font-family",legFont).attr("font-size",18)
    .attr("fill",groupColors[key]).text(a+" "+b);
  if(c2) lg.append("text").attr("transform",`translate(913,${yy}) scale(1.07,1)`).attr("font-family",legFont).attr("font-size",18)
    .attr("fill",groupColors[key]).text(c2);
});
</script></body></html>
